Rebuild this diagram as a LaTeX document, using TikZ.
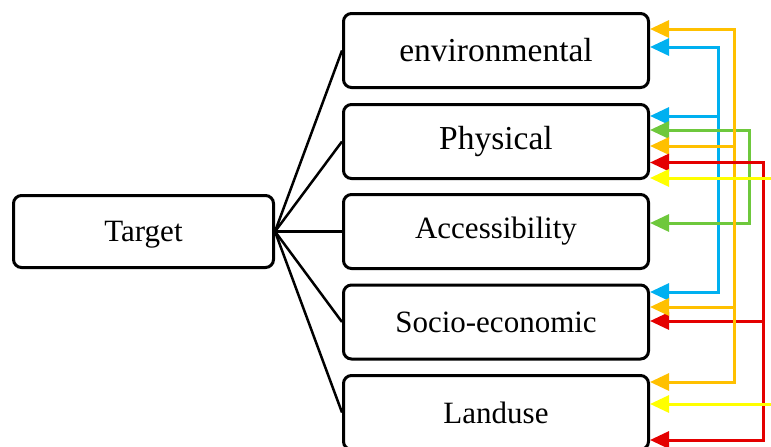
\documentclass[tikz,border=0pt]{standalone}
\usepackage{fontspec}
\setmainfont{Liberation Serif}
\usetikzlibrary{arrows.meta}
\definecolor{cOrange}{RGB}{255,192,0}
\definecolor{cBlue}{RGB}{0,176,240}
\definecolor{cGreen}{RGB}{110,200,60}
\definecolor{cRed}{RGB}{228,0,0}
\definecolor{cYellow}{RGB}{255,255,0}
\begin{document}
\begin{tikzpicture}[x=1pt,y=-1pt,
  box/.style={draw, line width=3pt, rounded corners=8pt, inner sep=0pt,
    minimum width=305pt, minimum height=74pt, font=\fontsize{31}{36}\selectfont},
  big/.style={font=\fontsize{33.5}{38}\selectfont},
  link/.style={line width=2.5pt},
  bus/.style={line width=3pt, line cap=rect},
  feed/.style={line width=3pt, -{Triangle[length=19pt,width=17pt]}}]
\useasboundingbox (0,0) rectangle (771,447);
\clip (0,0) rectangle (771,447);
% boxes
\node[box, minimum width=260pt, minimum height=72pt, text depth=0pt] (tgt) at (143.5,231.5) {Target};
\node[box,big] (env) at (496,50.5) {environmental};
\node[box,big] (phy) at (496,141.5) {Physical};
\node[box] (acc) at (496,231.5) {Accessibility};
\node[box] (soc) at (496,322) {Socio-economic};
\node[box] (lan) at (496,412.5) {Landuse};
% links
\foreach \n in {env,phy,acc,soc,lan} \draw[link] (tgt.east) -- (\n.west);
% bus coordinates
\coordinate (b1) at (718,47);
\coordinate (b2) at (718,116);
\coordinate (b3) at (718,292);
\coordinate (g1) at (749,130);
\coordinate (g2) at (749,223);
\coordinate (o1) at (734,29);
\coordinate (o2) at (734,146);
\coordinate (o3) at (734,307);
\coordinate (o4) at (734,382);
\coordinate (r1) at (763,162.5);
\coordinate (r2) at (763,321);
\coordinate (r3) at (763,440);
\coordinate (y1) at (780,178);
\coordinate (y2) at (780,404);
% blue
\draw[bus,cBlue] (b1) -- (b3);
\draw[feed,cBlue] (b1) -- (b1 -| env.east);
\draw[feed,cBlue] (b2) -- (b2 -| phy.east);
\draw[feed,cBlue] (b3) -- (b3 -| soc.east);
% green
\draw[bus,cGreen] (g1) -- (g2);
\draw[feed,cGreen] (g1) -- (g1 -| phy.east);
\draw[feed,cGreen] (g2) -- (g2 -| acc.east);
% red (part)
\draw[bus,cRed] (r1) -- (r3);
\draw[feed,cRed] (r2) -- (r2 -| soc.east);
\draw[feed,cRed] (r3) -- (r3 -| lan.east);
% orange
\draw[bus,cOrange] (o1) -- (o4);
\draw[feed,cOrange] (o1) -- (o1 -| env.east);
\draw[feed,cOrange] (o2) -- (o2 -| phy.east);
\draw[feed,cOrange] (o3) -- (o3 -| soc.east);
\draw[feed,cOrange] (o4) -- (o4 -| lan.east);
% red top branch
\draw[feed,cRed] (r1) -- (r1 -| phy.east);
% yellow
\draw[feed,cYellow] (y1) -- (y1 -| phy.east);
\draw[feed,cYellow] (y2) -- (y2 -| lan.east);
\end{tikzpicture}
\end{document}
